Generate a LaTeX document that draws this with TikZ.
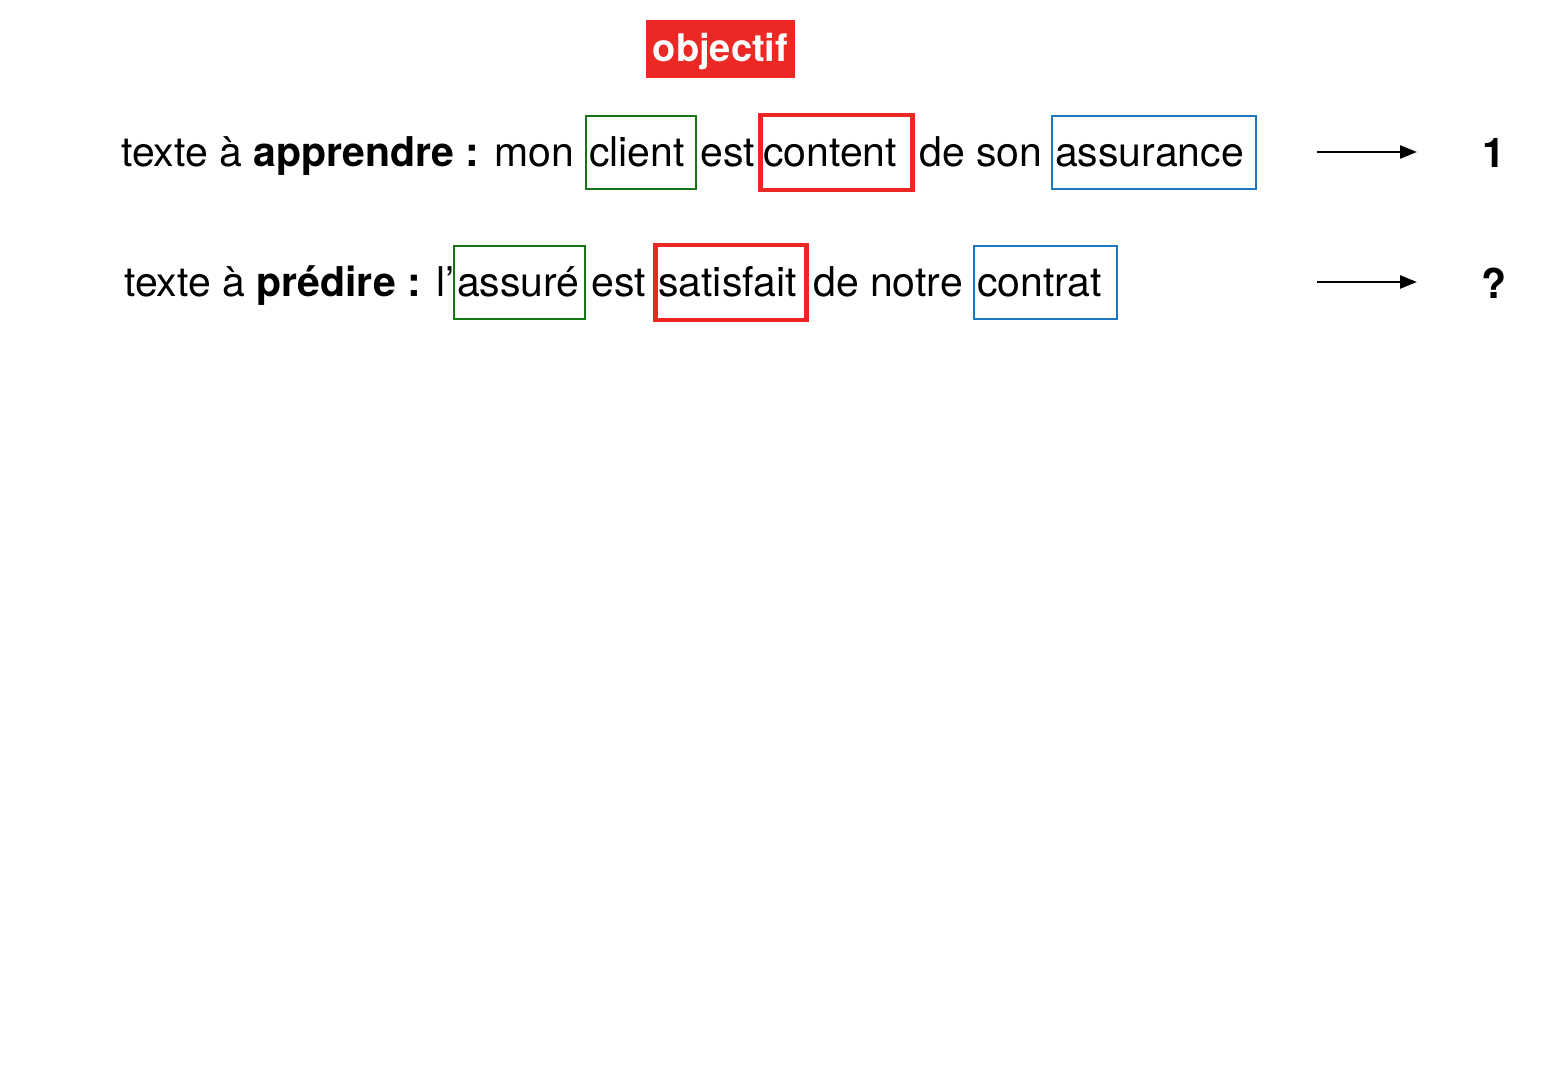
\documentclass[tikz,border=0pt]{standalone}
\usepackage{fontspec}
\setmainfont{TeX Gyre Heros}
\usetikzlibrary{arrows.meta}

\definecolor{boxgreen}{RGB}{22,118,22}
\definecolor{boxred}{RGB}{236,40,36}
\definecolor{boxblue}{RGB}{28,120,190}

\tikzset{
  word/.style={inner sep=0pt, anchor=base west, font=\fontsize{41}{49}\selectfont},
  wordbox/.style={word, draw, line width=2pt, inner xsep=3pt, inner ysep=20pt,
    text height=30pt, text depth=3pt, align=left},
  greenword/.style={wordbox, draw=boxgreen},
  redword/.style={wordbox, draw=boxred, line width=4.5pt, inner ysep=21pt},
  blueword/.style={wordbox, draw=boxblue},
  result/.style={font=\fontsize{41}{49}\selectfont\bfseries, inner sep=0pt},
  toresult/.style={line width=2.5pt, -{Triangle[length=17pt,width=13pt]}}
}

\begin{document}
\begin{tikzpicture}[x=1pt,y=-1pt]
  \useasboundingbox[fill=white] (0,0) rectangle (1564,1074);

  \node[fill=boxred, text=white, font=\fontsize{38}{46}\selectfont\bfseries,
    minimum width=149pt, minimum height=58pt, inner sep=0pt,
    text height=33pt, text depth=8pt] (objectif) at (720.5,49) {objectif};

  %texte a apprendre
  \node[word] (learn) at (121,166) {texte à \textbf{apprendre :} mon};
  \node[greenword, text width=104pt] (client) at (585,166) {client};
  \node[word] (est1) at (700,166) {est};
  \node[redword, text width=146pt] (content) at (758,166) {content};
  \node[word] (deson) at (919,166) {de son};
  \node[blueword, text width=198pt] (assurance) at (1051,166) {assurance};

  %texte a predire
  \node[word] (predict) at (124,296) {texte à \textbf{prédire :} l’};
  \node[greenword, text width=125pt] (assure) at (453,296) {assuré};
  \node[word] (est2) at (591,296) {est};
  \node[redword, text width=145pt] (satisfait) at (653,296) {satisfait};
  \node[word] (denotre) at (813,296) {de notre};
  \node[blueword, text width=137pt] (contrat) at (973,296) {contrat};

  %results
  \node[result] (one) at (1494,153) {1};
  \node[result] (unknown) at (1494,283) {?};

  \coordinate (s1) at (1317,152);
  \coordinate (e1) at (1417,152);
  \coordinate (s2) at (1317,282);
  \coordinate (e2) at (1417,282);
  \draw[toresult] (s1) -- (e1);
  \draw[toresult] (s2) -- (e2);
\end{tikzpicture}
\end{document}
